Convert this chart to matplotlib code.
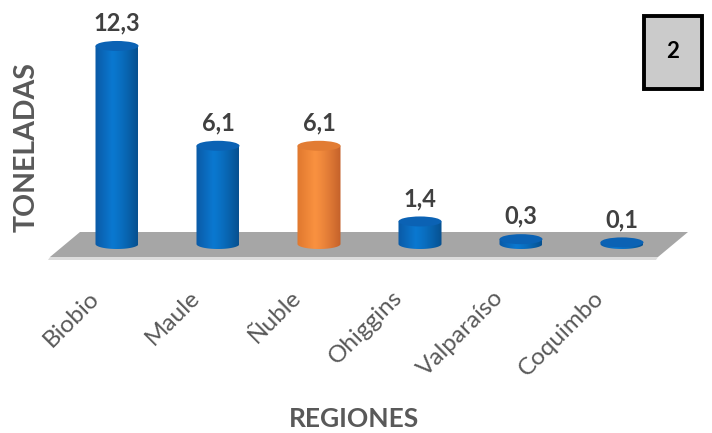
import numpy as np
import matplotlib
matplotlib.use("Agg")
import matplotlib.pyplot as plt
from matplotlib.patches import Polygon, Ellipse, Rectangle
from matplotlib.colors import to_rgb

# ---------------- data ----------------
regions = ["Biobio", "Maule", "Ñuble", "Ohiggins", "Valparaíso", "Coquimbo"]
toneladas = [12.3, 6.1, 6.1, 1.4, 0.3, 0.1]
value_labels = ["12,3", "6,1", "6,1", "1,4", "0,3", "0,1"]
highlight = "Ñuble"
x_title = "REGIONES"
y_title = "TONELADAS"
panel_tag = "2"

# ---------------- layout helpers (pixel geometry) ----------------
W, H = 712, 433
X0, DX = 117.0, 101.0        # pixel x of first bar, spacing
BASE, PXU = 244.0, 16.1      # pixel y of baseline, pixels per unit

def px2x(px):
    return (px - X0) / DX

def px2y(py):
    return (BASE - py) / PXU

fig = plt.figure(figsize=(W / 100, H / 100), dpi=100)
ax = fig.add_axes([0, 0, 1, 1])
ax.set_xlim(px2x(0), px2x(W))
ax.set_ylim(px2y(H), px2y(0))
ax.axis("off")

plt.rcParams["font.family"] = ["Lato", "DejaVu Sans"]

# floor
floor_px = [(80, 232), (688, 232), (658, 257), (50, 257)]
shadow_px = [(50, 257), (658, 257), (656, 260), (48, 260)]
ax.add_patch(Polygon([(px2x(a), px2y(b)) for a, b in shadow_px], closed=True,
                     facecolor="#dcdcdc", edgecolor="none", zorder=1))
ax.add_patch(Polygon([(px2x(a), px2y(b)) for a, b in floor_px], closed=True,
                     facecolor="#a6a6a6", edgecolor="none", zorder=1))

bw = 43 / DX          # bar width in data units
eh = 10 / PXU         # ellipse height in data units

palettes = {
    "blue": dict(left="#0b5aa6", mid="#0a78d0", right="#07508f", top="#0b62b4"),
    "orange": dict(left="#e0782e", mid="#f99140", right="#c4612a", top="#e27c33"),
}

def profile(pal, n=64):
    t = np.linspace(0, 1, n)
    l, m, r = (np.array(to_rgb(pal[k])) for k in ("left", "mid", "right"))
    out = np.empty((1, n, 3))
    for i, tt in enumerate(t):
        if tt < 0.4:
            f = tt / 0.4
            out[0, i] = l * (1 - f) + m * f
        else:
            f = (tt - 0.4) / 0.6
            out[0, i] = m * (1 - f ** 1.3) + r * f ** 1.3
    return out

for i, (name, v) in enumerate(zip(regions, toneladas)):
    pal = palettes["orange" if name == highlight else "blue"]
    xl, xr = i - bw / 2, i + bw / 2
    theta = np.linspace(np.pi, 2 * np.pi, 60)
    bottom = np.column_stack([i + bw / 2 * np.cos(theta), eh / 2 * np.sin(theta)])
    body = np.vstack([[[xl, v]], bottom, [[xr, v]]])
    poly = Polygon(body, closed=True, facecolor="none", edgecolor="none", zorder=3)
    ax.add_patch(poly)
    im = ax.imshow(profile(pal), extent=(xl, xr, -eh, v + eh), aspect="auto",
                   zorder=3, interpolation="bilinear")
    im.set_clip_path(poly)
    top = Ellipse((i, v), bw, eh, facecolor=pal["top"], edgecolor="none", zorder=4)
    ax.add_patch(top)
    ax.annotate(value_labels[i], (i, v), xytext=(0, 16.5), textcoords="offset points",
                ha="center", va="center", fontsize=17, fontweight="bold",
                color="#404040", zorder=5)
    ax.text(i - 14 / DX, px2y(287), name, rotation=45, ha="right", va="top",
            fontsize=17.5, color="#595959", zorder=5)

ax.set_xlim(px2x(0), px2x(W))
ax.set_ylim(px2y(H), px2y(0))

fig.text(354 / W, 1 - 419 / H, x_title, ha="center", va="center", fontsize=19,
         fontweight="bold", color="#595959")
fig.text(27 / W, 1 - 147 / H, y_title, ha="center", va="center", rotation=90,
         fontsize=20.5, fontweight="bold", color="#595959")

# panel tag box
fig.patches.append(Rectangle((644 / W, 1 - 89 / H), 58 / W, 73 / H,
                             transform=fig.transFigure, facecolor="#cbcbcb",
                             edgecolor="black", linewidth=2.8))
fig.text(673 / W, 1 - 52 / H, panel_tag, ha="center", va="center", fontsize=16,
         fontweight="bold", color="black")

fig.savefig("out.png", dpi=100)
